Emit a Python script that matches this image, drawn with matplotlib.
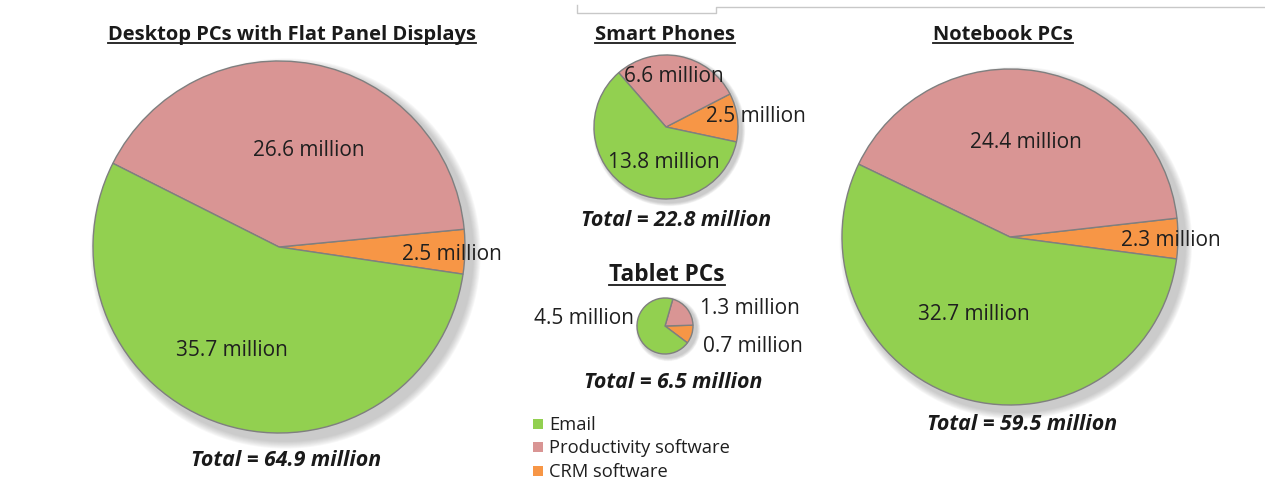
import matplotlib
matplotlib.use("Agg")
import matplotlib.pyplot as plt
from matplotlib.patches import Circle, Rectangle
from matplotlib.lines import Line2D

# ---- data ----
categories = ["Email", "Productivity software", "CRM software"]
colors = ["#92D050", "#D99594", "#F79646"]
devices = ["Desktop PCs with Flat Panel Displays", "Smart Phones", "Tablet PCs", "Notebook PCs"]
desktop_vals = [35.7, 26.6, 2.5]
phone_vals = [13.8, 6.6, 2.5]
tablet_vals = [4.5, 1.3, 0.7]
notebook_vals = [32.7, 24.4, 2.3]
totals = [64.9, 22.8, 6.5, 59.5]

W, H = 1265, 480
fig = plt.figure(figsize=(W / 100, H / 100), dpi=100)
ax = fig.add_axes([0, 0, 1, 1])
ax.set_xlim(0, W)
ax.set_ylim(0, H)
ax.set_aspect("equal")
ax.axis("off")

FONT = "Open Sans"
DY = 2  # small vertical text adjustment (px, downward)

def Y(y):
    return H - y

# layout: center (img px), radius, startangle, label positions, title pos, total pos
layout = [
    dict(c=(279, 247), r=186, start=-8.4, lab=[(232, 348), (309, 149), (452, 252)],
         title=(292, 34), total=(286, 458)),
    dict(c=(666, 127), r=72, start=-12, lab=[(664, 160), (674, 75), (756, 114)],
         title=(665, 34), total=(676, 218)),
    dict(c=(665, 326), r=28, start=-37, lab=[(584, 316), (750, 306), (753, 344)],
         title=(667, 274), total=(673, 380)),
    dict(c=(1010, 237), r=168, start=-7.5, lab=[(974, 313), (1026, 141), (1171, 238)],
         title=(1003, 34), total=(1022, 423)),
]
all_vals = [desktop_vals, phone_vals, tablet_vals, notebook_vals]

titles = []
for name, vals, tot, L in zip(devices, all_vals, totals, layout):
    cx, cy = L["c"][0], Y(L["c"][1])
    r = L["r"]
    # soft shadow
    off = max(3, r * 0.035)
    for k in range(8):
        ax.add_patch(Circle((cx + off, cy - off), r + off * (1.4 - k * 0.15),
                            color="#808080", alpha=0.06, lw=0, zorder=1))
    # order: CRM, Productivity, Email counter-clockwise from start
    order = [2, 1, 0]
    ax.pie([vals[i] for i in order], colors=[colors[i] for i in order],
           startangle=L["start"], counterclock=True, center=(cx, cy), radius=r,
           wedgeprops=dict(edgecolor="#7f7f7f", linewidth=1.0, zorder=2), frame=True)
    for v, (lx, ly) in zip(vals, L["lab"]):
        ax.text(lx, Y(ly + DY), f"{v} million", ha="center", va="center",
                fontsize=15, family=FONT, color="#1f1f1f", zorder=5)
    fs = 16.3 if name == "Tablet PCs" else 14.5
    t = ax.text(L["title"][0], Y(L["title"][1] + 1), name, ha="center", va="center",
                fontsize=fs, family=FONT, weight="bold", color="#1a1a1a", zorder=5)
    titles.append(t)
    ax.text(L["total"][0], Y(L["total"][1] + DY), f"Total = {tot} million", ha="center",
            va="center", fontsize=15.4, family=FONT, weight="bold", style="italic",
            color="#1a1a1a", zorder=5)

ax.set_xlim(0, W)
ax.set_ylim(0, H)
ax.axis("off")

# legend
leg_y = [424, 447, 471]
for cat, col, ly in zip(categories, colors, leg_y):
    ax.add_patch(Rectangle((533, Y(ly) - 5), 10, 10, facecolor=col, edgecolor="none", zorder=5))
    ax.text(549, Y(ly + 1), cat, ha="left", va="center", fontsize=13.2, family=FONT,
            color="#1f1f1f", zorder=5)

# top decorative lines
ax.add_line(Line2D([577, 577, 716, 716, W], [Y(5), Y(13), Y(13), Y(7), Y(7)],
                   color="#c8c8c8", lw=1.0))

# underlines for titles
fig.canvas.draw()
rend = fig.canvas.get_renderer()
inv = ax.transData.inverted()
for t in titles:
    bb = t.get_window_extent(rend)
    (x0, y0), (x1, y1) = inv.transform([(bb.x0, bb.y0), (bb.x1, bb.y1)])
    ax.add_line(Line2D([x0, x1], [y0 + 2, y0 + 2], color="#1a1a1a", lw=1.3))

fig.savefig("out.png", dpi=100)
